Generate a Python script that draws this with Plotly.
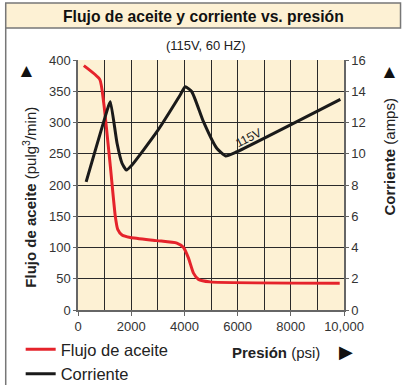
import plotly.graph_objects as go

# Oil flow (pulg^3/min) against pressure (psi)
flow_psi = [219, 818, 968, 1218, 1405, 1493, 1655, 1968, 2967, 3717, 3967, 4154, 4341, 4529, 4966, 9839]
flow_val = [391, 369, 331, 229, 149, 129, 120, 116, 111, 107, 100, 83, 59, 49, 45, 43]

# Motor current (amps) against pressure (psi)
amp_psi = [306, 1156, 1218, 1468, 1655, 1818, 2030, 2967, 3842, 4029, 4279, 4716, 5216, 5553, 5903, 9864]
amp_val = [8.2, 13.1, 13.33, 10.67, 9.39, 8.96, 9.28, 11.41, 13.76, 14.29, 13.97, 12.05, 10.35, 9.86, 10.07, 13.48]

x_tickvals = [0, 2000, 4000, 6000, 8000, 10000]
x_ticktext = ["0", "2000", "4000", "6000", "8000", "10,000"]

W, H = 402, 385
L, R, T, B = 77.5, 344.3, 60, 310  # plot area edges in pixels

FONT = "Arial, Liberation Sans, sans-serif"
CREAM = "#fdf1d4"
RED = "#e5232b"
BLACK = "#1a1a1a"


def px(x):
    return (x - L) / (R - L)


def py(y):
    return (B - y) / (B - T)


fig = go.Figure()
fig.add_trace(go.Scatter(
    x=flow_psi, y=flow_val, name="Flujo de aceite", mode="lines",
    line=dict(color=RED, width=3, shape="spline", smoothing=0.5),
))
fig.add_trace(go.Scatter(
    x=amp_psi, y=amp_val, name="Corriente", mode="lines", yaxis="y2",
    line=dict(color=BLACK, width=3, shape="spline", smoothing=0.5),
))

grid = dict(showgrid=True, gridcolor="#2a2a2a", gridwidth=1)

fig.update_layout(
    width=W, height=H,
    margin=dict(l=L, r=W - R, t=T, b=H - B, autoexpand=False),
    paper_bgcolor="white", plot_bgcolor=CREAM,
    font=dict(family=FONT, size=13, color="#222"),
    showlegend=True,
    legend=dict(x=px(20), y=py(332), xanchor="left", yanchor="top",
                font=dict(size=16.5, color="#222"), bgcolor="rgba(0,0,0,0)",
                tracegroupgap=0, itemwidth=30),
    xaxis=dict(range=[0, 10000], tickvals=x_tickvals, ticktext=x_ticktext,
               ticks="outside", ticklen=4, tickcolor="#666",
               showline=True, linecolor="#666", linewidth=1.5,
               zeroline=False, **grid,
               minor=dict(dtick=1000, tick0=0, showgrid=True, gridcolor="#2a2a2a", gridwidth=1),
               tickfont=dict(size=13, color="#333")),
    yaxis=dict(range=[0, 400], dtick=50, ticks="outside", ticklen=3, tickcolor="#666",
               showline=True, linecolor="#666", linewidth=1.5, zeroline=False,
               **grid, tickfont=dict(size=13, color="#333")),
    yaxis2=dict(range=[0, 16], dtick=2, overlaying="y", side="right",
                ticks="outside", ticklen=3, tickcolor="#666",
                showline=True, linecolor="#666", linewidth=1.5,
                showgrid=False, zeroline=False, tickfont=dict(size=13, color="#333")),
)

shapes = [
    # title band
    dict(type="rect", xref="paper", yref="paper",
         x0=px(5), x1=px(401), y0=py(28), y1=py(3),
         fillcolor=CREAM, line=dict(color="#777", width=1.5), layer="below"),
    # left frame line
    dict(type="line", xref="paper", yref="paper",
         x0=px(5), x1=px(5), y0=py(28), y1=py(386),
         line=dict(color="#777", width=1.5)),
]
fig.update_layout(shapes=shapes)

ann = [
    dict(text="<b>Flujo de aceite y corriente vs. presión</b>", x=px(203), y=py(16),
         font=dict(size=15.7, color="#111")),
    dict(text="(115V, 60 HZ)", x=px(206), y=py(46), font=dict(size=13, color="#222")),
    dict(text="<b>Flujo de aceite</b> (pulg<sup>3</sup>/min)", x=px(28), y=py(197),
         textangle=-90, font=dict(size=15, color="#222")),
    dict(text="▲", x=px(26), y=py(70), font=dict(size=19, color="#111")),
    dict(text="<b>Corriente</b> (amps)", x=px(389), y=py(157),
         textangle=-90, font=dict(size=15, color="#222")),
    dict(text="▲", x=px(390), y=py(71), font=dict(size=19, color="#111")),
    dict(text="<b>Presión</b> (psi)", x=px(276), y=py(352), font=dict(size=15, color="#222")),
    dict(text="▶", x=px(346), y=py(352), font=dict(size=18, color="#111")),
]
for a in ann:
    a.update(xref="paper", yref="paper", showarrow=False, xanchor="center", yanchor="middle")
    fig.add_annotation(**a)

fig.add_annotation(text="115V", x=6400, y=11.0, xref="x", yref="y2", showarrow=False,
                   textangle=-27, font=dict(size=12, color="#222"))

fig.write_html("out.html")
